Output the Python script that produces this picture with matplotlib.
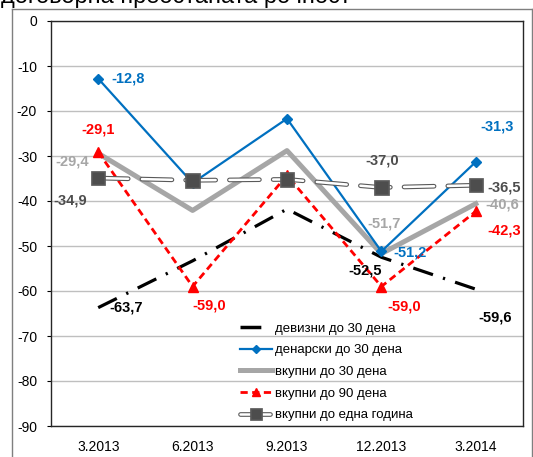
import matplotlib
matplotlib.use('Agg')
import matplotlib.pyplot as plt
import matplotlib.patheffects as pe
from matplotlib.lines import Line2D

plt.rcParams['font.family'] = ['Liberation Sans', 'DejaVu Sans']

# data
quarters = ['3.2013', '6.2013', '9.2013', '12.2013', '3.2014']
fx_30 = [-63.7, -53.3, -41.8, -52.5, -59.6]
den_30 = [-12.8, -36.0, -21.7, -51.2, -31.3]
tot_30 = [-29.4, -42.1, -28.8, -51.7, -40.6]
tot_90 = [-29.1, -59.0, -34.3, -59.0, -42.3]
tot_1y = [-34.9, -35.4, -35.2, -37.0, -36.5]
yticks = [0, -10, -20, -30, -40, -50, -60, -70, -80, -90]

x = list(range(len(quarters)))
W, H = 533, 457

fig = plt.figure(figsize=(W / 100, H / 100), dpi=100)
ax = fig.add_axes([51 / W, 1 - 426 / H, 472 / W, 405 / H])

# outer chart frame (partly outside the picture)
frame_kw = dict(transform=fig.transFigure, color='#7F7F7F', lw=1)
fig.add_artist(Line2D([11.5 / W, 11.5 / W], [0, 1 - 8.5 / H], **frame_kw))
fig.add_artist(Line2D([11.5 / W, 531.5 / W], [1 - 8.5 / H, 1 - 8.5 / H], **frame_kw))
fig.add_artist(Line2D([531.5 / W, 531.5 / W], [0, 1 - 8.5 / H], **frame_kw))
fig.text(1 / W, 1 - 3 / H, 'договорна преостаната рочност', fontsize=17,
         va='baseline', ha='left')

black, blue, gray, red, dgray = 'black', '#0070C0', '#A6A6A6', '#FF0000', '#4D4D4D'

l1, = ax.plot(x, fx_30, color=black, lw=2.3, dashes=(6.5, 3.3, 0.7, 3.3), zorder=3)
l2, = ax.plot(x, den_30, color=blue, lw=1.6, marker='D', ms=5, zorder=4)
l3, = ax.plot(x, tot_30, color=gray, lw=3.6, zorder=3)
l4, = ax.plot(x, tot_90, color=red, lw=2, dashes=(2.6, 1.6), marker='^', ms=7,
              zorder=4)
l5, = ax.plot(x, tot_1y, color='white', lw=1.8, dashes=(12, 5.5), marker='s',
              ms=7.5, mfc=dgray, mec=dgray, dash_capstyle='round', zorder=5,
              path_effects=[pe.Stroke(linewidth=3.4, foreground='#595959'),
                            pe.Normal()])

ax.set_xlim(-0.5, len(quarters) - 0.5)
ax.set_ylim(-90, 0)
ax.set_yticks(yticks)
ax.set_yticklabels([str(v) for v in yticks])
ax.set_xticks(x)
ax.set_xticklabels(quarters)
ax.tick_params(axis='x', length=0, pad=10, labelsize=10)
ax.tick_params(axis='y', length=3, direction='out', labelsize=10, pad=7)
ax.grid(axis='y', color='#BFBFBF', lw=1)
ax.set_axisbelow(True)
for s in ax.spines.values():
    s.set_color('#262626')
    s.set_linewidth(1)


def fmt(v):
    return f'{v:.1f}'.replace('.', ',')


def lab(i, series, color, dx, dy, ha='center'):
    ax.annotate(fmt(series[i]), (x[i], series[i]), xytext=(dx, dy),
                textcoords='offset pixels', color=color, fontsize=10.5,
                fontweight='bold', ha=ha, va='center', zorder=6)


lab(0, den_30, blue, 13, 0, 'left')
lab(4, den_30, blue, 5, 35, 'left')
lab(3, den_30, blue, 12, -1, 'left')
lab(0, tot_90, red, 0, 22)
lab(1, tot_90, red, 17, -19)
lab(3, tot_90, red, 23, -20)
lab(4, tot_90, red, 12, -19, 'left')
lab(0, tot_30, gray, -9, -8, 'right')
lab(3, tot_30, gray, 3, 30)
lab(4, tot_30, gray, 10, -1, 'left')
lab(0, tot_1y, dgray, -11, -22, 'right')
lab(3, tot_1y, dgray, 1, 27)
lab(4, tot_1y, dgray, 12, -2, 'left')
lab(0, fx_30, black, 11, 0, 'left')
lab(3, fx_30, black, 0, -13, 'right')
lab(4, fx_30, black, 19, -28)

# legend: the black entry shows just one solid dash
fx_handle = Line2D([], [], color=black, lw=2.5, solid_capstyle='round',
                   dashes=(6, 100))
handles = [fx_handle, l2, l3, l4, l5]
labels = ['девизни до 30 дена', 'денарски до 30 дена', 'вкупни до 30 дена',
          'вкупни до 90 дена', 'вкупни до една година']
leg = ax.legend(handles, labels, loc='upper left',
                bbox_to_anchor=(184 / 472, 1 - 296 / 405),
                frameon=False, fontsize=9.5, handlelength=2.4, markerscale=0.8,
                handletextpad=0.2, labelspacing=0.72, borderaxespad=0)

fig.savefig('out.png', dpi=100)
